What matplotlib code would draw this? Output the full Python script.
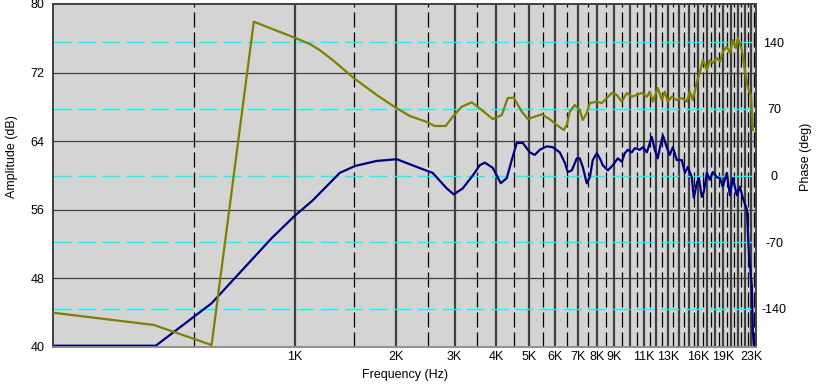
import matplotlib
matplotlib.use('Agg')
import matplotlib.pyplot as plt
from matplotlib.ticker import FixedLocator, FixedFormatter, NullLocator

# Amplitude response (dB)
amp_freq = [190, 385, 565, 854, 1000, 1132, 1316, 1362, 1511, 1757, 2016, 2313, 2581, 2842, 2983,
            3173, 3399, 3567, 3692, 3899, 4121, 4293, 4443, 4599, 4794, 5030, 5204, 5388, 5653, 5891,
            6180, 6397, 6530, 6713, 6947, 7090, 7238, 7439, 7600, 7754, 7969, 8140, 8306, 8597, 8899,
            9209, 9465, 9663, 9863, 10140, 10350, 10710, 10940, 11240, 11630, 11870, 12120, 12290,
            12550, 12890, 13160, 13440, 13810, 14300, 14600, 14900, 15310, 15520, 15850, 16070, 16400,
            16630, 16980, 17330, 17690, 18180, 18570, 18950, 19480, 19890, 20300, 20860, 21300, 21740,
            22360, 22660, 23140, 23300, 23460]
amp_db = [40.15, 40.15, 45.1, 52.7, 55.3, 57.1, 59.7, 60.3, 61.1, 61.7, 61.9, 61.0, 60.3, 58.5, 57.8,
          58.5, 60.0, 61.2, 61.5, 60.9, 59.1, 59.7, 61.8, 63.8, 63.8, 62.7, 62.4, 63.0, 63.4, 63.3,
          62.7, 61.5, 60.4, 60.6, 62.0, 62.0, 61.0, 59.1, 59.8, 61.8, 62.6, 62.0, 61.2, 60.6, 61.2,
          62.0, 61.6, 62.6, 63.0, 62.7, 63.2, 63.0, 63.3, 62.7, 64.5, 63.0, 62.0, 63.2,
          64.7, 63.3, 62.4, 63.3, 61.8, 61.8, 60.3, 61.0, 59.8, 57.4, 59.1, 59.7, 57.5,
          58.1, 60.3, 59.5, 60.4, 59.8, 59.7, 58.7, 60.3, 57.7, 59.7, 57.7, 58.7, 57.4,
          56.0, 51.0, 47.0, 41.6, 40.0]

# Phase response (deg)
phase_freq = [190, 380, 565, 755, 1000, 1109, 1187, 1298, 1500, 1757, 1988, 2204, 2478, 2617, 2823,
              2962, 3151, 3376, 3616, 3899, 4149, 4323, 4505, 4761, 4961, 5204, 5461, 5771, 6055, 6353,
              6485, 6620, 6851, 7090, 7238, 7439, 7600, 7969, 8248, 8537, 8838, 9146, 9465, 9795, 10140,
              10490, 10860, 11240, 11470, 11710, 12120, 12460, 12720, 12980, 13350, 13810, 14300, 14800,
              15110, 15420, 15850, 16180, 16520, 16980, 17330, 17690, 18180, 18570, 18950, 19480, 19890,
              20300, 20720, 21010, 21600, 22050, 22510, 22980, 23300]
phase_deg = [-144.0, -156.9, -177.9, 161.4, 144.6, 138.0, 131.7, 121.2, 102.3, 84.5, 71.9, 62.5, 56.2, 52.0, 52.0,
             61.7, 72.2, 76.8, 68.7, 59.3, 63.5, 81.3, 81.7, 67.0, 59.3, 61.7, 64.2, 59.0, 53.0, 47.8,
             53.0, 67.0, 74.0, 68.7, 58.3, 65.6, 76.1, 77.5, 76.1, 81.3, 86.6, 84.5, 77.5, 86.6, 82.7,
             84.5, 86.6, 82.7, 88.0, 77.5, 91.8, 79.2, 88.0, 77.5, 82.7, 79.2, 81.3, 77.5,
             88.0, 79.2, 98.4, 107.6, 121.2, 110.7, 121.2, 118.1, 123.3, 119.4, 129.9, 135.2, 128.6,
             142.2, 133.8, 144.3, 131.7, 110.7, 91.8, 84.5, 47.8]

freq_ticks = [1000, 2000, 3000, 4000, 5000, 6000, 7000, 8000, 9000, 11000, 13000, 16000, 19000, 23000]
freq_labels = ['1K', '2K', '3K', '4K', '5K', '6K', '7K', '8K', '9K', '11K', '13K', '16K', '19K', '23K']
amp_ticks = [40, 48, 56, 64, 72, 80]
phase_ticks = [-140, -70, 0, 70, 140]
solid_grid_freqs = [k * 1000 for k in range(1, 24)]
dashed_grid_freqs = [500 + k * 1000 for k in range(0, 24)]

plt.rcParams['font.family'] = ['Liberation Sans', 'DejaVu Sans']
plt.rcParams['font.size'] = 9

W, H = 817, 387
fig = plt.figure(figsize=(W / 100, H / 100), dpi=100)
L, R, T, B = 53, 756, 4, 347
ax = fig.add_axes([L / W, 1 - B / H, (R - L) / W, (B - T) / H])
ax.set_facecolor('#D4D4D4')
ax.set_xscale('log')
ax.set_xlim(190, 23800)
ax.set_ylim(40, 80)

for f in solid_grid_freqs:
    ax.axvline(f, color='#404040', lw=1.6, zorder=1)
for f in dashed_grid_freqs:
    ax.axvline(f, color='black', lw=0.9, dashes=(12, 4), zorder=1)
for a in amp_ticks[1:-1]:
    ax.axhline(a, color='#404040', lw=0.9, zorder=1)

ax.xaxis.set_major_locator(FixedLocator(freq_ticks))
ax.xaxis.set_major_formatter(FixedFormatter(freq_labels))
ax.xaxis.set_minor_locator(NullLocator())
ax.set_yticks(amp_ticks)
ax.tick_params(axis='both', length=0, labelsize=9, colors='black')
ax.tick_params(axis='x', pad=3)
ax.tick_params(axis='y', pad=6)

tw = ax.twinx()
tw.set_ylim(-180, 180)
for p in phase_ticks:
    tw.axhline(p, color='#00FFFF', lw=1.0, dashes=(13, 4.5), zorder=1)
tw.plot(amp_freq, amp_db, transform=ax.transData, color='#000080', lw=1.6, zorder=2)
tw.plot(phase_freq, phase_deg, color='#808000', lw=1.6, zorder=3)
tw.set_xlim(190, 23800)
tw.set_ylim(-180, 180)
ax.set_ylim(40, 80)
tw.set_yticks(phase_ticks)
tw.set_yticklabels([str(p) for p in phase_ticks])
tw.tick_params(axis='y', length=0, pad=13, labelsize=9)
for lbl in tw.get_yticklabels():
    lbl.set_horizontalalignment('center')
tw.xaxis.set_minor_locator(NullLocator())

for a in (ax, tw):
    for s in a.spines.values():
        s.set_color('#404040')
        s.set_linewidth(1.2)
    a.spines['bottom'].set_color('#909090')

ax.set_xlabel('Frequency (Hz)', fontsize=9, labelpad=4)
ax.set_ylabel('Amplitude (dB)', fontsize=9)
ax.yaxis.set_label_coords((18 - L) / (R - L), (B - 157) / (B - T))
tw.set_ylabel('Phase (deg)', fontsize=9)
tw.yaxis.set_label_coords((800 - L) / (R - L), (B - 157) / (B - T))

fig.savefig('out.png', dpi=100)
